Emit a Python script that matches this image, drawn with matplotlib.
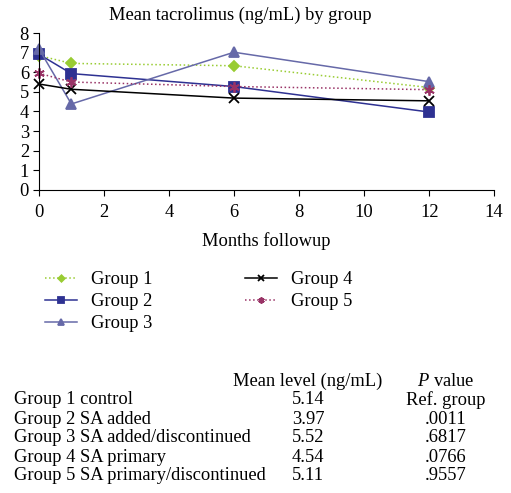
import matplotlib
matplotlib.use("Agg")
from matplotlib import pyplot as plt

plt.rcParams['font.family'] = ['Liberation Serif', 'DejaVu Serif']
plt.rcParams['mathtext.fontset'] = 'custom'
plt.rcParams['mathtext.it'] = 'Liberation Serif:italic'
plt.rcParams['mathtext.rm'] = 'Liberation Serif'

months = [0, 1, 6, 12]
group1 = [6.85, 6.45, 6.33, 5.22]
group2 = [6.92, 5.93, 5.27, 3.97]
group3 = [7.2, 4.38, 7.02, 5.52]
group4 = [5.4, 5.13, 4.68, 4.54]
group5 = [5.95, 5.5, 5.27, 5.11]

table_groups = ['Group 1 control', 'Group 2 SA added', 'Group 3 SA added/discontinued',
                'Group 4 SA primary', 'Group 5 SA primary/discontinued']
table_means = ['5.14', '3.97', '5.52', '4.54', '5.11']
table_pvals = ['Ref. group', '.0011', '.6817', '.0766', '.9557']

fs = 13.3
fig = plt.figure(figsize=(5.11, 4.93), dpi=100)
ax = fig.add_axes([0.076, 0.615, 0.891, 0.318])

series = [
    ('Group 1', group1, '#99cc33', ':', 'D', 5.5),
    ('Group 2', group2, '#2e3192', '-', 's', 7),
    ('Group 3', group3, '#6669a8', '-', '^', 7.5),
    ('Group 4', group4, '#000000', '-', 'x', 6.5),
    ('Group 5', group5, '#993366', ':', (6, 2, 0), 7.5),
]
for name, vals, color, ls, mk, ms in series:
    ax.plot(months, vals, color=color, linestyle=ls, marker=mk, markersize=ms,
            linewidth=1.1, markeredgewidth=1.3, label=name, clip_on=False)

ax.set_xlim(0, 14)
ax.set_ylim(0, 8)
ax.set_xticks(range(0, 15, 2))
ax.set_yticks(range(0, 9))
ax.spines['top'].set_visible(False)
ax.spines['right'].set_visible(False)
ax.tick_params(labelsize=fs, direction='out', length=4)
ax.tick_params(axis='x', pad=6)
ax.tick_params(axis='y', pad=3)
ax.set_xlabel('Months followup', fontsize=fs, labelpad=8)
fig.text(240 / 511, 1 - 15 / 493, 'Mean tacrolimus (ng/mL) by group',
         ha='center', va='center', fontsize=fs)

fig.legend(*ax.get_legend_handles_labels(), ncol=2, loc='upper left',
           bbox_to_anchor=(45 / 511, 1 - 271 / 493), frameon=False,
           fontsize=fs, handlelength=1.75, handletextpad=0.75, columnspacing=5.0,
           labelspacing=0.28, markerscale=0.6, borderpad=0, borderaxespad=0)

# table below the legend
fig.text(308 / 511, 1 - 381 / 493, 'Mean level (ng/mL)', ha='center', va='center', fontsize=fs)
fig.text(446 / 511, 1 - 381 / 493, '$\\mathit{P}$ value', ha='center', va='center', fontsize=fs)
for i, (g, m, p) in enumerate(zip(table_groups, table_means, table_pvals)):
    y = 1 - (400 + 19 * i) / 493
    fig.text(14 / 511, y, g, ha='left', va='center', fontsize=fs)
    fig.text(308 / 511, y, m, ha='center', va='center', fontsize=fs)
    fig.text(446 / 511, y, p, ha='center', va='center', fontsize=fs)

fig.savefig('out.png', dpi=100)
